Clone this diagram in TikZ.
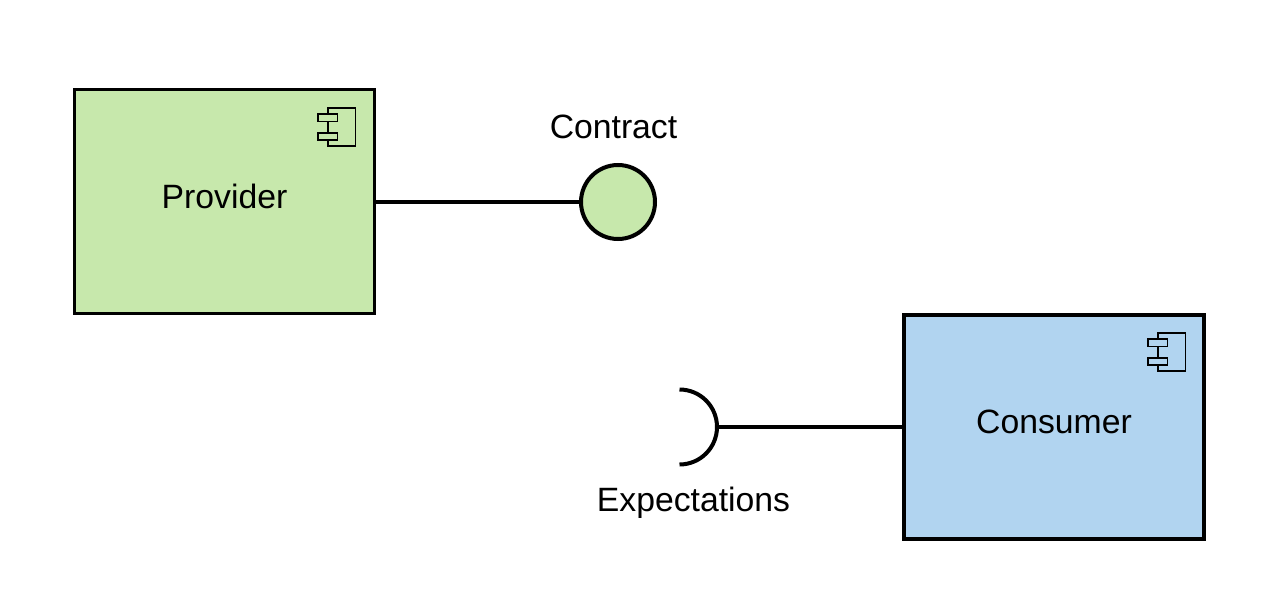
\documentclass[tikz,border=0pt]{standalone}
\usepackage{fontspec}
\setmainfont{Liberation Sans}
\definecolor{provfill}{HTML}{C7E8AC}
\definecolor{consfill}{HTML}{B1D4F0}
\tikzset{
  comp/.style={draw=black,line width=2.25pt,minimum width=225pt,minimum height=168.4pt,outer sep=0pt,inner sep=0pt,font=\fontsize{25.3pt}{30pt}\selectfont},
  lolli/.style={draw=black,fill=provfill,circle,line width=3pt,minimum size=55.5pt,outer sep=0pt,inner sep=0pt},
  conn/.style={draw=black,line width=3pt},
  lbl/.style={inner sep=0pt,font=\fontsize{25.3pt}{30pt}\selectfont},
  icon/.style={draw=black,line width=1.3pt}
}
\newcommand{\compicon}[3]{%
  \draw[icon,fill=#3] (#1+10,#2) rectangle (#1+37.5,#2+38);
  \draw[icon,fill=#3] (#1,#2+6) rectangle (#1+19.5,#2+13.5);
  \draw[icon,fill=#3] (#1,#2+25) rectangle (#1+19.5,#2+32);
}
\begin{document}
\begin{tikzpicture}[x=0.75pt,y=-0.75pt]
\useasboundingbox (0,0) rectangle (1271,613);
\fill[white] (0,0) rectangle (1271,613);
\node[comp,fill=provfill] (provider) at (224.5,201.7) {};
\node[lbl] (providerlabel) at (224.5,196.5) {Provider};
\node[comp,fill=consfill,line width=3pt] (consumer) at (1054,427) {};
\node[lbl] (consumerlabel) at (1054,421.5) {Consumer};
\node[lolli] (contract) at (618,202) {};
\node[lbl] (contractlabel) at (613.5,126.5) {Contract};
\node[lbl] (expectlabel) at (693.5,503) {Expectations};
\coordinate (socket) at (716.5,427);
\draw[conn] (provider.east |- contract.west) -- (contract.west);
\draw[conn] (consumer.west) -- (socket);
\draw[line width=3pt,line cap=butt] (679.5,389.5) arc[start angle=-90,end angle=90,radius=37.5];
\compicon{318}{108}{provfill}
\compicon{1148}{333}{consfill}
\end{tikzpicture}
\end{document}
